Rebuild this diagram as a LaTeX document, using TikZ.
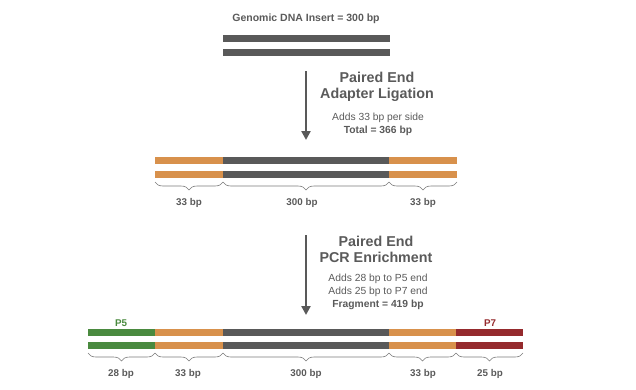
\documentclass[tikz,border=0pt]{standalone}
\usepackage{fontspec}
\setmainfont{Liberation Sans}
\usetikzlibrary{arrows.meta,decorations.pathreplacing}
\definecolor{dna}{HTML}{595959}
\definecolor{adapt}{HTML}{D8914C}
\definecolor{pfive}{HTML}{4A8A3F}
\definecolor{pseven}{HTML}{952A2D}
\definecolor{txt}{HTML}{5A5A5A}
\tikzset{
  bar/.style={fill=#1, draw=none},
  brc/.style={draw=dna!80, line width=0.6pt, decorate, decoration={brace, mirror, amplitude=8pt}},
  blab/.style={font=\bfseries\fontsize{9.8}{11}\selectfont, text=txt},
  stepttl/.style={font=\bfseries\fontsize{14.3}{16.5}\selectfont, text=txt, align=center},
  stepsub/.style={font=\fontsize{10.3}{13}\selectfont, text=txt, align=center},
  bigarrow/.style={draw=dna, line width=2.6pt, -{Triangle[width=9pt,length=9pt]}}
}
\begin{document}
\begin{tikzpicture}[x=1pt,y=-1pt]
\useasboundingbox (0,0) rectangle (636,389);
% top
\node[font=\bfseries\fontsize{10.5}{12}\selectfont, text=txt] (title) at (306,19) {Genomic DNA Insert = 300 bp};
\foreach \y in {35,49}{
  \fill[bar=dna] (223,\y) rectangle (390,\y+6.8);
}
% arrow 1
\coordinate (a1s) at (306,71);
\coordinate (a1e) at (306,140);
\draw[bigarrow] (a1s) -- (a1e);
\node[stepttl] (s1) at (377,87) {Paired End\\Adapter Ligation};
\node[stepsub] (s1b) at (378,124) {Adds 33 bp per side\\\textbf{Total = 366 bp}};
% middle row
\foreach \y in {157,171}{
  \fill[bar=adapt] (155,\y) rectangle (223,\y+6.8);
  \fill[bar=dna] (223,\y) rectangle (389,\y+6.8);
  \fill[bar=adapt] (389,\y) rectangle (457,\y+6.8);
}
\coordinate (m0) at (155,182);
\coordinate (m1) at (223,182);
\coordinate (m2) at (389,182);
\coordinate (m3) at (457,182);
\draw[brc] (m0) -- (m1);
\draw[brc] (m1) -- (m2);
\draw[brc] (m2) -- (m3);
\node[blab] (ml1) at (189,203) {33 bp};
\node[blab] (ml2) at (302,203) {300 bp};
\node[blab] (ml3) at (423,203) {33 bp};
% arrow 2
\coordinate (a2s) at (306,235);
\coordinate (a2e) at (306,315);
\draw[bigarrow] (a2s) -- (a2e);
\node[stepttl] (s2) at (376,249.5) {Paired End\\PCR Enrichment};
\node[stepsub] (s2b) at (378,292) {Adds 28 bp to P5 end\\Adds 25 bp to P7 end\\\textbf{Fragment = 419 bp}};
% bottom row
\foreach \y in {329,342}{
  \fill[bar=pfive] (88,\y) rectangle (155,\y+6.8);
  \fill[bar=adapt] (155,\y) rectangle (223,\y+6.8);
  \fill[bar=dna] (223,\y) rectangle (389,\y+6.8);
  \fill[bar=adapt] (389,\y) rectangle (456,\y+6.8);
  \fill[bar=pseven] (456,\y) rectangle (523,\y+6.8);
}
\node[font=\bfseries\fontsize{9.8}{11}\selectfont, text=pfive] (p5) at (121,323) {P5};
\node[font=\bfseries\fontsize{9.8}{11}\selectfont, text=pseven] (p7) at (490,323) {P7};
\coordinate (b0) at (88,353);
\coordinate (b1) at (155,353);
\coordinate (b2) at (223,353);
\coordinate (b3) at (389,353);
\coordinate (b4) at (456,353);
\coordinate (b5) at (523,353);
\draw[brc] (b0) -- (b1);
\draw[brc] (b1) -- (b2);
\draw[brc] (b2) -- (b3);
\draw[brc] (b3) -- (b4);
\draw[brc] (b4) -- (b5);
\node[blab] (bl1) at (121,374) {28 bp};
\node[blab] (bl2) at (188,374) {33 bp};
\node[blab] (bl3) at (306,374) {300 bp};
\node[blab] (bl4) at (423,374) {33 bp};
\node[blab] (bl5) at (490,374) {25 bp};
\end{tikzpicture}
\end{document}
